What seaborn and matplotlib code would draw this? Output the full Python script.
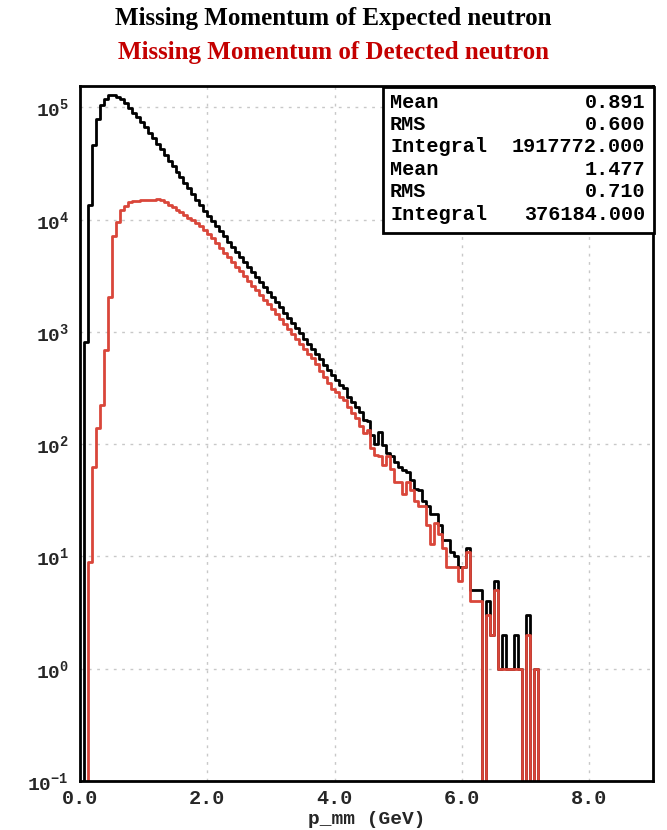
import matplotlib
matplotlib.use("Agg")
import matplotlib.pyplot as plt
from matplotlib.patches import Rectangle
from matplotlib.ticker import LogLocator, MultipleLocator, NullFormatter
import numpy as np
import pandas as pd
import seaborn as sns

# histogram binning (GeV)
bin_width = 0.0625

# counts per bin
expected_counts = [
    0, 815, 13500, 46000, 79000, 105000, 118000, 128000, 128000, 124000,
    118000, 109000, 98000, 89500, 81500, 74500, 67000, 59700, 53200, 47400,
    42300, 37700, 33600, 30000, 26800, 23900, 21300, 19000, 17000, 15100,
    13500, 12000, 10700, 9660, 8710, 7850, 7080, 6380, 5750, 5190,
    4680, 4220, 3800, 3430, 3090, 2790, 2510, 2260, 2040, 1840,
    1650, 1480, 1330, 1200, 1075, 970, 870, 780, 700, 630,
    570, 510, 457, 411, 372, 335, 316, 263, 238, 214,
    194, 163, 162, 120, 100, 129, 98, 83, 79, 69,
    63, 59, 56, 48, 40, 39, 31, 28, 24, 24,
    19, 14, 14, 11, 10, 8, 8, 12, 5, 5,
    5, 0, 4, 2, 6, 1, 2, 1, 1, 2,
    1, 0, 3, 0, 1, 0,
]
detected_counts = [
    0, 0, 9, 63, 138, 222, 690, 2050, 7200, 9600,
    12200, 13300, 14400, 14800, 14800, 15000, 15000, 15100, 15000, 15400,
    15100, 14300, 13600, 12900, 12200, 11600, 11000, 10400, 9900, 9250,
    8700, 8100, 7500, 6810, 6180, 5610, 5090, 4620, 4200, 3810,
    3460, 3140, 2850, 2590, 2350, 2130, 1940, 1760, 1600, 1440,
    1300, 1180, 1060, 960, 870, 785, 710, 640, 580, 520,
    450, 400, 350, 310, 290, 262, 250, 215, 190, 170,
    145, 125, 135, 93, 80, 78, 65, 79, 60, 46,
    46, 36, 46, 39, 31, 28, 28, 19, 13, 20,
    16, 12, 8, 8, 8, 6, 8, 11, 4, 4,
    4, 0, 3, 2, 5, 1, 1, 1, 1, 1,
    1, 0, 2, 0, 1, 0,
]

stat_names = ["Mean", "RMS", "Integral"]
expected_stats = [0.891, 0.600, 1917772.000]
detected_stats = [1.477, 0.710, 376184.000]

title_expected = "Missing Momentum of Expected neutron"
title_detected = "Missing Momentum of Detected neutron"
x_label = "p_mm (GeV)"
x_ticks = [0, 2, 4, 6, 8]
x_ticklabels = ["0.0", "2.0", "4.0", "6.0", "8.0"]
y_decades = [-1, 0, 1, 2, 3, 4, 5]

hist_red = "#d9463a"
title_red = "#c40000"

n_bins = len(expected_counts)
centers = (np.arange(n_bins) + 0.5) * bin_width
df = pd.DataFrame({
    "p_mm": np.concatenate([centers, centers]),
    "counts": np.array(expected_counts + detected_counts, dtype=float),
    "sample": ["expected"] * n_bins + ["detected"] * n_bins,
})

sns.set_theme(style="white")
plt.rcParams["font.family"] = ["Liberation Mono", "DejaVu Sans"]
plt.rcParams["font.weight"] = "bold"
plt.rcParams["mathtext.fontset"] = "custom"
plt.rcParams["mathtext.rm"] = "Liberation Mono:bold"
plt.rcParams["mathtext.bf"] = "Liberation Mono:bold"
plt.rcParams["mathtext.it"] = "Liberation Mono:bold"

W, H = 667, 830
fig = plt.figure(figsize=(W / 100, H / 100), dpi=100)
ax = fig.add_axes([80 / W, 49 / H, (653 - 80) / W, (744 - 49) / H])

for name, color in [("expected", "black"), ("detected", hist_red)]:
    sns.histplot(data=df[df["sample"] == name], x="p_mm", weights="counts",
                 binwidth=bin_width, binrange=(0, n_bins * bin_width),
                 element="step", fill=False, color=color,
                 linewidth=2, ax=ax)

ax.set_yscale("log")
ax.set_xlim(0, 9.0)
ax.set_ylim(0.1, 1.55e5)

ax.set_xticks(x_ticks)
ax.set_xticklabels(x_ticklabels)
ax.xaxis.set_minor_locator(MultipleLocator(0.4))
ax.set_yticks([10.0 ** d for d in y_decades])
ax.set_yticklabels([r"$\mathbf{10^{%d}}$" % d for d in y_decades])
ax.yaxis.set_minor_locator(LogLocator(base=10, subs=np.arange(2, 10)))
ax.yaxis.set_minor_formatter(NullFormatter())

ax.tick_params(axis="both", which="both", direction="in", top=False, right=False,
               width=1.5, color="black")
ax.tick_params(axis="x", which="major", length=7, labelsize=14.5, pad=6)
ax.tick_params(axis="x", which="minor", length=4)
ax.tick_params(axis="y", which="major", length=9, labelsize=14, pad=8)
ax.tick_params(axis="y", which="minor", length=5)

ax.grid(True, which="major", color="#c8c8c8", linestyle=(0, (2, 4)), linewidth=1)
ax.set_axisbelow(True)
for s in ax.spines.values():
    s.set_color("black")
    s.set_linewidth(2)

ax.set_ylabel("")
ax.set_xlabel(x_label, fontsize=14, fontweight="bold", labelpad=2)

fig.text(0.5, 1 - 19 / H, title_expected, ha="center", va="center",
         family="Liberation Serif", fontweight="bold", fontsize=18, color="black")
fig.text(0.5, 1 - 52 / H, title_detected, ha="center", va="center",
         family="Liberation Serif", fontweight="bold", fontsize=18, color=title_red)

# stats box
box = Rectangle((383 / W, 1 - 233 / H), (654 - 383) / W, (233 - 87) / H,
                transform=fig.transFigure, facecolor="white", edgecolor="black",
                linewidth=2, zorder=5)
fig.patches.append(box)
row = 0
for stats in (expected_stats, detected_stats):
    for name, val in zip(stat_names, stats):
        y = 1 - (102 + row * 22.4) / H
        fig.text(390 / W, y, name, ha="left", va="center", fontsize=14.5,
                 fontweight="bold", color="black", zorder=6)
        fig.text(645 / W, y, f"{val:.3f}", ha="right", va="center", fontsize=14.5,
                 fontweight="bold", color="black", zorder=6)
        row += 1

fig.savefig("out.png", dpi=100)
